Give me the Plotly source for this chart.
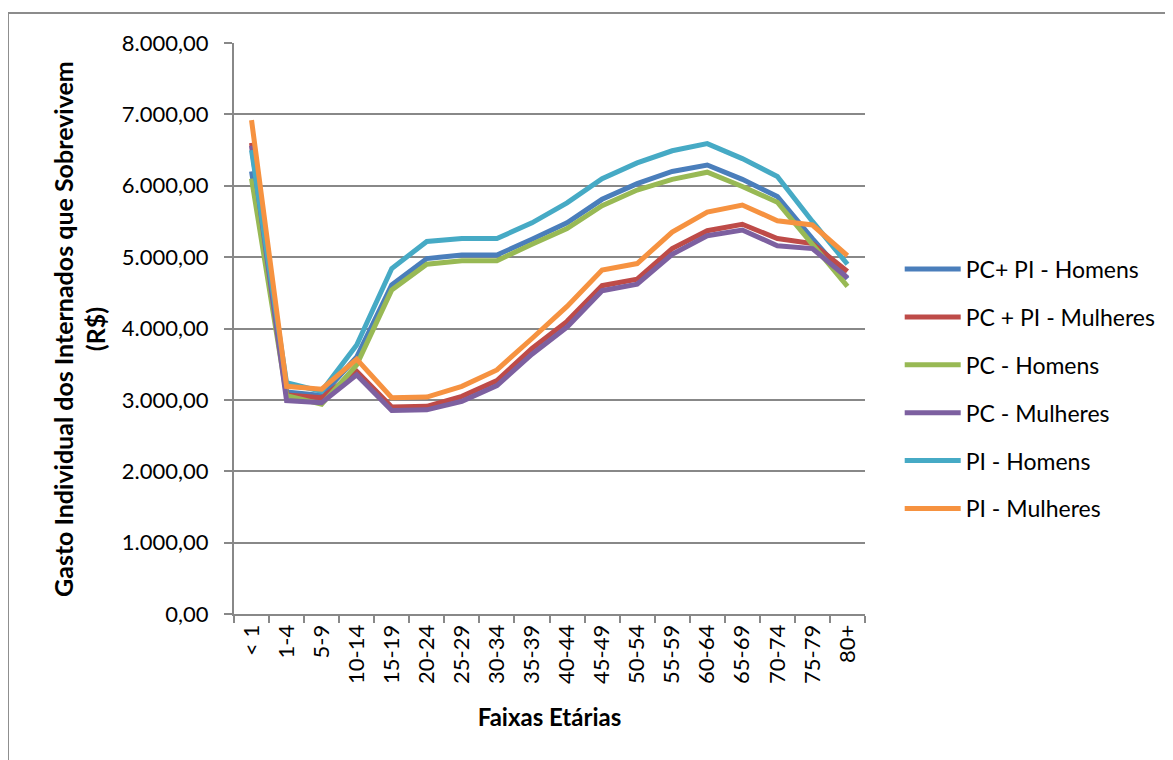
import plotly.graph_objects as go

categorias = ["< 1", "1-4", "5-9", "10-14", "15-19", "20-24", "25-29", "30-34", "35-39",
              "40-44", "45-49", "50-54", "55-59", "60-64", "65-69", "70-74", "75-79", "80+"]

pc_pi_homens = [6200, 3110, 3060, 3600, 4610, 4980, 5030, 5030, 5250, 5480, 5810, 6030, 6200, 6290, 6090, 5850, 5260, 4700]
pc_pi_mulheres = [6600, 3070, 3030, 3400, 2900, 2910, 3050, 3270, 3720, 4100, 4600, 4690, 5120, 5370, 5460, 5260, 5190, 4800]
pc_homens = [6100, 3060, 2940, 3490, 4540, 4900, 4950, 4950, 5180, 5400, 5720, 5940, 6090, 6190, 5990, 5770, 5180, 4590]
pc_mulheres = [6560, 2990, 2960, 3350, 2850, 2860, 2980, 3200, 3640, 4020, 4530, 4620, 5040, 5300, 5380, 5160, 5120, 4710]
pi_homens = [6500, 3240, 3120, 3770, 4840, 5220, 5260, 5260, 5480, 5760, 6100, 6320, 6490, 6590, 6380, 6130, 5500, 4900]
pi_mulheres = [6920, 3190, 3150, 3570, 3030, 3040, 3190, 3420, 3860, 4310, 4820, 4910, 5350, 5630, 5730, 5510, 5450, 5020]

series = [
    ("PC+ PI - Homens", pc_pi_homens, "#4A7EBB"),
    ("PC + PI - Mulheres", pc_pi_mulheres, "#BE4B48"),
    ("PC - Homens", pc_homens, "#98B954"),
    ("PC - Mulheres", pc_mulheres, "#7D60A0"),
    ("PI - Homens", pi_homens, "#46AAC5"),
    ("PI - Mulheres", pi_mulheres, "#F69240"),
]

FONT = "Lato, Open Sans, sans-serif"
GRID = "#888888"

fig = go.Figure()
for i, (nome, vals, cor) in enumerate(series):
    fig.add_trace(go.Scatter(
        x=categorias, y=vals, mode="lines", name=nome,
        line=dict(color=cor, width=5), legendgroup=f"g{i}",
    ))

fig.update_layout(
    width=1165, height=752,
    margin=dict(l=226, r=308, t=35, b=146),
    paper_bgcolor="white", plot_bgcolor="white",
    separators=",.",
    font=dict(family=FONT, size=22, color="#000000"),
    showlegend=True,
    legend=dict(
        x=1.055, xanchor="left", y=0.394, yanchor="middle",
        font=dict(family=FONT, size=23, color="#000000"),
        traceorder="grouped", tracegroupgap=15, itemwidth=56,
        bgcolor="rgba(0,0,0,0)",
    ),
    xaxis=dict(
        type="category", range=[-0.5, 17.5],
        showgrid=False, showline=True, linecolor=GRID, linewidth=2,
        ticks="outside", tickson="boundaries", ticklen=7, tickcolor=GRID, tickwidth=1.5,
        tickangle=-90, tickfont=dict(family=FONT, size=22),
        title=dict(text="<b>Faixas Etárias</b>", font=dict(family=FONT, size=24), standoff=26),
    ),
    yaxis=dict(
        range=[0, 8000], dtick=1000, tickformat=",.2f",
        showgrid=True, gridcolor=GRID, gridwidth=2,
        showline=True, linecolor=GRID, linewidth=2,
        ticks="outside", ticklen=8, tickcolor=GRID, tickwidth=1.5,
        tickfont=dict(family=FONT, size=22), ticklabelstandoff=11,
        zeroline=False,
    ),
)

# y axis title (two lines, rotated)
fig.add_annotation(
    text="<b>Gasto Individual dos Internados que Sobrevivem<br>(R$)</b>",
    xref="paper", yref="paper", x=-0.245, y=0.5, xanchor="center", yanchor="middle",
    textangle=-90, showarrow=False, font=dict(family=FONT, size=25, color="#000000"),
)

# chart frame (top and left borders visible)
fig.add_shape(type="line", xref="paper", yref="paper",
              x0=-0.3582, x1=1.55, y0=1.0525, y1=1.0525,
              line=dict(color="#8c8c8c", width=2))
fig.add_shape(type="line", xref="paper", yref="paper",
              x0=-0.3582, x1=-0.3582, y0=1.0525, y1=-0.3,
              line=dict(color="#8c8c8c", width=2))

fig.write_html("out.html")
